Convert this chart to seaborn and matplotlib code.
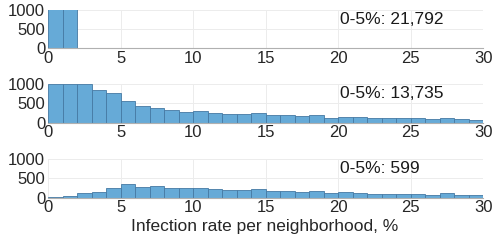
import numpy as np
import pandas as pd
import seaborn as sns
import matplotlib.pyplot as plt

# counts per 1% bin (0-1, 1-2, ... 29-30)
bins = list(range(0, 31))
top_counts = [12000, 9792] + [0] * 28
mid_counts = [1000, 1000, 1000, 850, 765, 565, 435, 383, 322, 278,
              290, 250, 210, 215, 240, 185, 185, 180, 185, 130,
              145, 135, 105, 105, 105, 105, 85, 115, 85, 75]
low_counts = [17, 43, 113, 148, 252, 348, 278, 304, 252, 243,
              250, 226, 191, 209, 226, 174, 174, 160, 174, 122,
              135, 125, 100, 100, 100, 100, 80, 110, 80, 70]
labels = ['0-5%: 21,792', '0-5%: 13,735', '0-5%: 599']

sns.set_style('white')
plt.rcParams['font.family'] = ['Liberation Sans', 'DejaVu Sans']

fig = plt.figure(figsize=(4.93, 2.42), dpi=100)
panels = [(0.8017, 0.157), (0.4938, 0.158), (0.183, 0.160)]
centers = np.arange(30) + 0.5

for (bottom, h), counts, lab in zip(panels, [top_counts, mid_counts, low_counts], labels):
    ax = fig.add_axes([0.0974, bottom, 0.8825, h])
    df = pd.DataFrame({'x': centers, 'n': counts})
    sns.histplot(data=df, x='x', weights='n', bins=bins, ax=ax,
                 color='#66aad7', alpha=1, edgecolor='#4579a3', linewidth=0.6)
    ax.set_xlim(0, 30)
    ax.set_ylim(0, 1000)
    ax.set_xticks([0, 5, 10, 15, 20, 25, 30])
    ax.set_yticks([0, 500, 1000])
    ax.grid(True, color='#ececec', linewidth=0.7)
    ax.set_axisbelow(True)
    ax.tick_params(length=0, labelsize=12, pad=2, colors='#262626')
    ax.set_xlabel('')
    ax.set_ylabel('')
    for s in ['top', 'right', 'left']:
        ax.spines[s].set_visible(False)
    ax.spines['bottom'].set_color('#b0b0b0')
    ax.spines['bottom'].set_linewidth(0.8)
    ax.text(0.672, 0.76, lab, transform=ax.transAxes, ha='left', va='center',
            fontsize=12.5, color='#1a1a1a')

fig.text(0.537, 0.065, 'Infection rate per neighborhood, %', ha='center', va='center',
         fontsize=12.5, color='#262626')

fig.savefig('out.png', dpi=100)
